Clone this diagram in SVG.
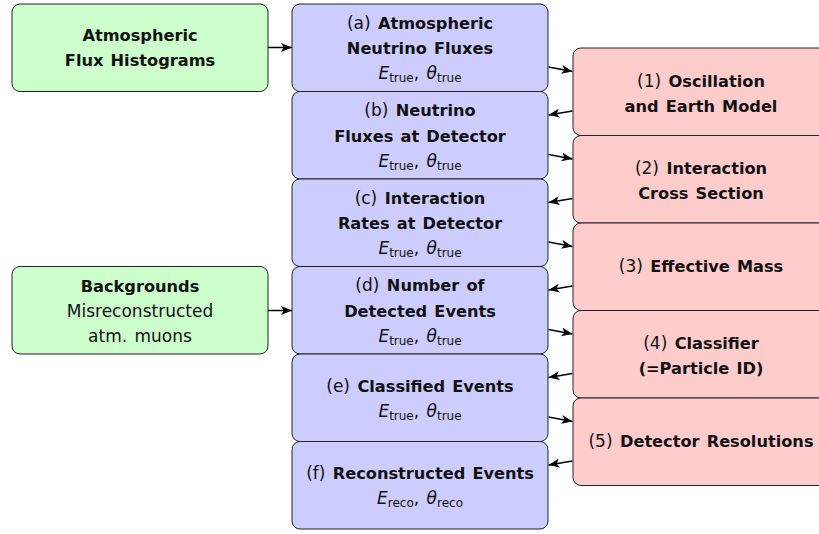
<svg xmlns="http://www.w3.org/2000/svg" width="819" height="534" viewBox="0 0 819 534">
<defs>
<marker id="ah" markerUnits="userSpaceOnUse" markerWidth="13" markerHeight="10" refX="11" refY="4.5" orient="auto">
<path d="M0,0 L11,4.5 L0,9 L2.8,4.5 Z" fill="#000"/>
</marker>
</defs>
<style>
.g{fill:#ccffcc;stroke:#222;stroke-width:1}
.b{fill:#ccccff;stroke:#222;stroke-width:1}
.r{fill:#ffcccc;stroke:#222;stroke-width:1}
text{font-family:"DejaVu Sans",sans-serif;font-size:17px;fill:#111;text-anchor:middle;word-spacing:2px}
.bf{font-weight:bold;font-size:16.2px;word-spacing:1.5px}
.n{font-weight:normal;font-size:17px}
.it{font-style:italic}
.sub{font-size:12px}
.c line{stroke:#000;stroke-width:1.5;marker-end:url(#ah)}
</style>
<g id="src1"><rect class="g" x="12" y="4" width="256" height="87.5" rx="8"/>
<text class="bf" x="140" y="40.7">Atmospheric</text><text class="bf" x="140" y="65.7">Flux Histograms</text></g>
<g id="src2"><rect class="g" x="12" y="266.5" width="256" height="87.5" rx="8"/>
<text class="bf" x="140" y="292">Backgrounds</text><text x="140" y="317">Misreconstructed</text><text x="140" y="341.5">atm. muons</text></g>

<g id="a"><rect class="b" x="292" y="4" width="256" height="87.5" rx="8"/>
<text x="420" y="28.5"><tspan class="n">(a) </tspan><tspan class="bf">Atmospheric</tspan></text>
<text class="bf" x="420" y="54">Neutrino Fluxes</text>
<text x="420" y="79"><tspan class="it">E</tspan><tspan class="sub" dy="3">true</tspan><tspan dy="-3">, </tspan><tspan class="it">θ</tspan><tspan class="sub" dy="3">true</tspan></text></g>
<g id="b"><rect class="b" x="292" y="91.5" width="256" height="87.5" rx="8"/>
<text x="420" y="116"><tspan class="n">(b) </tspan><tspan class="bf">Neutrino</tspan></text>
<text class="bf" x="420" y="141.5">Fluxes at Detector</text>
<text x="420" y="166.5"><tspan class="it">E</tspan><tspan class="sub" dy="3">true</tspan><tspan dy="-3">, </tspan><tspan class="it">θ</tspan><tspan class="sub" dy="3">true</tspan></text></g>
<g id="c"><rect class="b" x="292" y="179" width="256" height="87.5" rx="8"/>
<text x="420" y="203.5"><tspan class="n">(c) </tspan><tspan class="bf">Interaction</tspan></text>
<text class="bf" x="420" y="229">Rates at Detector</text>
<text x="420" y="254"><tspan class="it">E</tspan><tspan class="sub" dy="3">true</tspan><tspan dy="-3">, </tspan><tspan class="it">θ</tspan><tspan class="sub" dy="3">true</tspan></text></g>
<g id="d"><rect class="b" x="292" y="266.5" width="256" height="87.5" rx="8"/>
<text x="420" y="291"><tspan class="n">(d) </tspan><tspan class="bf">Number of</tspan></text>
<text class="bf" x="420" y="316.5">Detected Events</text>
<text x="420" y="341.5"><tspan class="it">E</tspan><tspan class="sub" dy="3">true</tspan><tspan dy="-3">, </tspan><tspan class="it">θ</tspan><tspan class="sub" dy="3">true</tspan></text></g>
<g id="e"><rect class="b" x="292" y="354" width="256" height="87.5" rx="8"/>
<text x="420" y="391.5"><tspan class="n">(e) </tspan><tspan class="bf">Classified Events</tspan></text>
<text x="420" y="416.5"><tspan class="it">E</tspan><tspan class="sub" dy="3">true</tspan><tspan dy="-3">, </tspan><tspan class="it">θ</tspan><tspan class="sub" dy="3">true</tspan></text></g>
<g id="f"><rect class="b" x="292" y="441.5" width="256" height="87.5" rx="8"/>
<text x="420" y="479"><tspan class="n">(f) </tspan><tspan class="bf">Reconstructed Events</tspan></text>
<text x="420" y="504"><tspan class="it">E</tspan><tspan class="sub" dy="3">reco</tspan><tspan dy="-3">, </tspan><tspan class="it">θ</tspan><tspan class="sub" dy="3">reco</tspan></text></g>

<g id="r1"><rect class="r" x="573" y="48" width="256" height="87.5" rx="8"/>
<text x="701" y="86.7"><tspan class="n">(1) </tspan><tspan class="bf">Oscillation</tspan></text>
<text class="bf" x="701" y="111.7">and Earth Model</text></g>
<g id="r2"><rect class="r" x="573" y="135.5" width="256" height="87.5" rx="8"/>
<text x="701" y="174.2"><tspan class="n">(2) </tspan><tspan class="bf">Interaction</tspan></text>
<text class="bf" x="701" y="199.2">Cross Section</text></g>
<g id="r3"><rect class="r" x="573" y="223" width="256" height="87.5" rx="8"/>
<text x="701" y="271.7"><tspan class="n">(3) </tspan><tspan class="bf">Effective Mass</tspan></text></g>
<g id="r4"><rect class="r" x="573" y="310.5" width="256" height="87.5" rx="8"/>
<text x="701" y="349.2"><tspan class="n">(4) </tspan><tspan class="bf">Classifier</tspan></text>
<text class="bf" x="701" y="374.2">(=Particle ID)</text></g>
<g id="r5"><rect class="r" x="573" y="398" width="256" height="87.5" rx="8"/>
<text x="701" y="446.7"><tspan class="n">(5) </tspan><tspan class="bf">Detector Resolutions</tspan></text></g>

<g id="connectors" class="c">
<line x1="268" y1="47.5" x2="292" y2="47.5"/>
<line x1="268" y1="310.5" x2="292" y2="310.5"/>
<line x1="548.5" y1="67" x2="572.5" y2="71.5"/>
<line x1="548.5" y1="154.5" x2="572.5" y2="159"/>
<line x1="548.5" y1="242" x2="572.5" y2="246.5"/>
<line x1="548.5" y1="329.5" x2="572.5" y2="334"/>
<line x1="548.5" y1="417" x2="572.5" y2="421.5"/>
<line x1="572.5" y1="111" x2="548.5" y2="115"/>
<line x1="572.5" y1="198.5" x2="548.5" y2="202.5"/>
<line x1="572.5" y1="286" x2="548.5" y2="290"/>
<line x1="572.5" y1="373.5" x2="548.5" y2="377.5"/>
<line x1="572.5" y1="461" x2="548.5" y2="465"/>
</g>
</svg>
